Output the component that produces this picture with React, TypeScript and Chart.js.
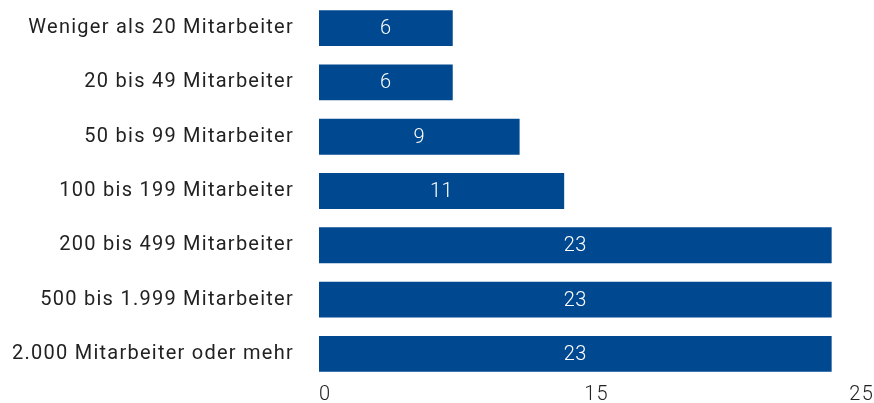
import React, { useEffect, useRef } from "react";
import { Chart, registerables } from "chart.js";

Chart.register(...registerables);

const categories = [
  "Weniger als 20 Mitarbeiter",
  "20 bis 49 Mitarbeiter",
  "50 bis 99 Mitarbeiter",
  "100 bis 199 Mitarbeiter",
  "200 bis 499 Mitarbeiter",
  "500 bis 1.999 Mitarbeiter",
  "2.000 Mitarbeiter oder mehr",
];
const values = [6, 6, 9, 11, 23, 23, 23];
const axisMax = 24.9;
const tickValues = [0, 12.45, 24.9];
const tickLabels = ["0", "15", "25"];

const FONT = "Roboto, 'Liberation Sans', Arial, sans-serif";
const BAR_COLOR = "#00488f";
const TEXT_COLOR = "#222222";
const SPACING = "1.25px";

const spacingPlugin = {
  id: "spacing",
  beforeDraw(chart: any) {
    chart.ctx.letterSpacing = SPACING;
  },
};

const valueLabels = {
  id: "valueLabels",
  afterDatasetsDraw(chart: any) {
    const ctx = chart.ctx;
    const meta = chart.getDatasetMeta(0);
    ctx.save();
    ctx.letterSpacing = "0.6px";
    ctx.fillStyle = "#ffffff";
    ctx.font = `300 20px ${FONT}`;
    ctx.textAlign = "center";
    ctx.textBaseline = "middle";
    meta.data.forEach((bar: any, i: number) => {
      const cx = (bar.x + bar.base) / 2;
      ctx.fillText(String(values[i]), cx, bar.y + 1);
    });
    ctx.restore();
  },
};

export default function App() {
  const ref = useRef<HTMLCanvasElement | null>(null);
  useEffect(() => {
    document.body.style.margin = "0";
    document.body.style.overflow = "hidden";
    const chart = new Chart(ref.current!, {
      type: "bar",
      data: {
        labels: categories,
        datasets: [
          {
            data: values,
            backgroundColor: BAR_COLOR,
            borderWidth: 0,
            barPercentage: 0.66,
            categoryPercentage: 1,
          },
        ],
      },
      options: {
        indexAxis: "y",
        animation: false,
        responsive: false,
        maintainAspectRatio: false,
        layout: { padding: { top: 1, right: 0, left: 0, bottom: 0 } },
        plugins: {
          legend: { display: false },
          tooltip: { enabled: false },
        },
        scales: {
          x: {
            min: 0,
            max: axisMax,
            grid: { display: false, drawTicks: false },
            border: { display: false },
            afterBuildTicks: (scale: any) => {
              scale.ticks = tickValues.map((v) => ({ value: v }));
            },
            afterFit: (scale: any) => {
              scale.height = 22;
              scale.paddingLeft = 0;
              scale.paddingRight = 0;
              scale.paddingTop = 0;
              scale.paddingBottom = 0;
            },
            ticks: {
              align: "inner",
              padding: 2,
              color: TEXT_COLOR,
              font: { family: FONT, size: 20, weight: "300" },
              maxRotation: 0,
              autoSkip: false,
              callback: (_v: any, i: number) => tickLabels[i],
            },
          },
          y: {
            grid: { display: false, drawTicks: false },
            border: { display: false },
            afterFit: (scale: any) => {
              scale.width = 319;
              scale.paddingTop = 0;
              scale.paddingBottom = 0;
              scale.paddingLeft = 0;
              scale.paddingRight = 0;
            },
            ticks: {
              padding: 25,
              color: TEXT_COLOR,
              font: { family: FONT, size: 20, weight: "400" },
              autoSkip: false,
            },
          },
        },
      },
      plugins: [spacingPlugin, valueLabels],
    });
    return () => chart.destroy();
  }, []);
  return (
    <div style={{ position: "fixed", left: 0, top: 0, width: 874, height: 403, overflow: "hidden" }}>
      <canvas ref={ref} width={874} height={403} />
    </div>
  );
}
